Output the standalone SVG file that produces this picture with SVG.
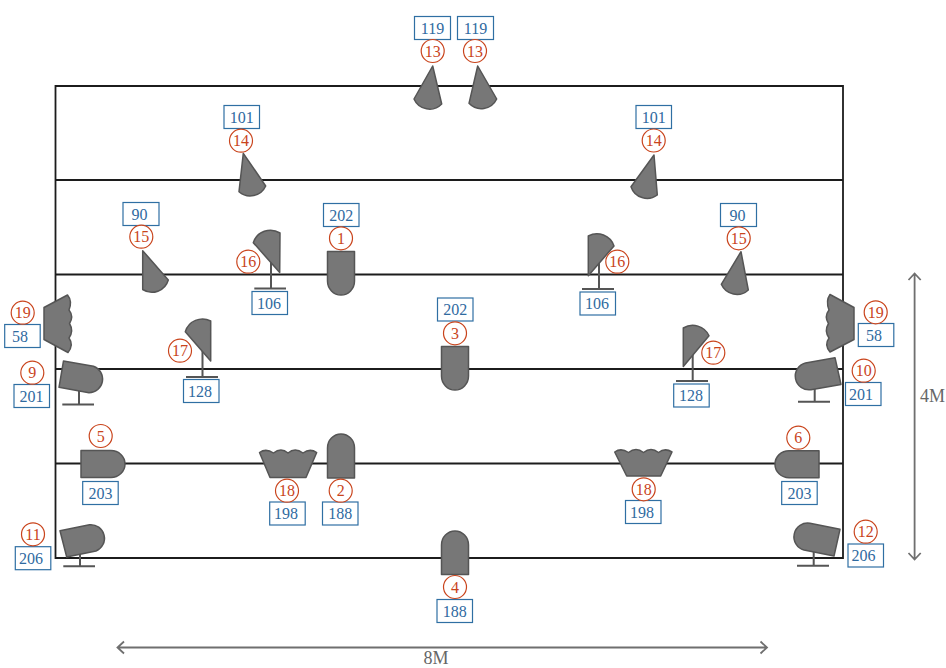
<svg xmlns="http://www.w3.org/2000/svg" width="946" height="668" viewBox="0 0 946 668">
<style>
text{font-family:"Liberation Serif","Times New Roman",serif;text-anchor:middle}
.f{fill:#777;stroke:#555;stroke-width:1.5;stroke-linejoin:round}
.s{fill:none;stroke:#555;stroke-width:2}
.l{fill:none;stroke:#1c1c1c;stroke-width:1.8}
.d{fill:none;stroke:#6f6f6f;stroke-width:1.8}
.c{fill:#fff;stroke:#c9441c;stroke-width:1.2}
.r{fill:#fff;stroke:#2f6fa3;stroke-width:1.2}
.ct{font-size:16px;fill:#c9441c}
.rt{font-size:16px;fill:#2f6a9f}
.dt{font-size:18px;fill:#666}
</style>
<rect width="946" height="668" fill="#fff"/>
<g id="connectors">
<path class="l" d="M55.5 86H843V558H55.5ZM55.5 180H843M55.5 274.5H843M55.5 369H843M55.5 463.5H843"/>
<path class="d" d="M914.6 273V560M908.5 280L914.6 273.5L920.7 280M908.5 553L914.6 559.5L920.7 553M117.5 647.5H767M124 641.5L117.5 647.5L124 653.5M760.5 641.5L767 647.5L760.5 653.5"/>
<text class="dt" x="932.5" y="402">4M</text>
<text class="dt" x="436" y="664">8M</text>
</g>
<g id="n13a"><path class="f" d="M432.7 66L414 99A17 17 0 0 0 441.7 104Z"/><rect class="r" x="414.5" y="16.5" width="36" height="23"/><text class="rt" x="432.5" y="33.5">119</text><circle class="c" cx="432.7" cy="51" r="11.5"/><text class="ct" x="432.7" y="56.5">13</text></g>
<g id="n13b"><path class="f" d="M477.7 66L469 103.3A17 17 0 0 0 496.7 99Z"/><rect class="r" x="457.5" y="16.5" width="36" height="23"/><text class="rt" x="475.5" y="33.5">119</text><circle class="c" cx="475" cy="51" r="11.5"/><text class="ct" x="475" y="56.5">13</text></g>
<g id="n14a"><path class="f" d="M243.3 153.3L265.7 186A17 17 0 0 1 239 191.7Z"/><rect class="r" x="224" y="105.5" width="35.5" height="23"/><text class="rt" x="241.7" y="122.5">101</text><circle class="c" cx="241" cy="140.7" r="11.5"/><text class="ct" x="241" y="146">14</text></g>
<g id="n14b"><path class="f" d="M654 155L631 186.7A17 17 0 0 0 657.3 195Z"/><rect class="r" x="636" y="105.5" width="35.5" height="23"/><text class="rt" x="653.7" y="122.5">101</text><circle class="c" cx="653.7" cy="140.5" r="11.5"/><text class="ct" x="653.7" y="146">14</text></g>
<g id="n15a"><path class="f" d="M142.7 250.7L168.3 280A17 17 0 0 1 142.7 289.5Z"/><rect class="r" x="123" y="202.5" width="36" height="23"/><text class="rt" x="139.5" y="219.5">90</text><circle class="c" cx="141.3" cy="236.7" r="11.5"/><text class="ct" x="141.3" y="242">15</text></g>
<g id="n15b"><path class="f" d="M741 251.7L721.3 284.3A17 17 0 0 0 748.3 290Z"/><rect class="r" x="720.5" y="203.5" width="36" height="23"/><text class="rt" x="737.5" y="220.5">90</text><circle class="c" cx="738.7" cy="238.3" r="11.5"/><text class="ct" x="738.7" y="243.8">15</text></g>
<g id="n16a"><path class="s" d="M271 262V288.5M254.3 288.5H286"/><path class="f" d="M279.7 272.5L280 233A18 18 0 0 0 253.3 242.7Z"/><rect class="r" x="252" y="291.5" width="35.5" height="23"/><text class="rt" x="269" y="308.5">106</text><circle class="c" cx="248.3" cy="261.7" r="11.5"/><text class="ct" x="248.3" y="267">16</text></g>
<g id="n16b"><path class="s" d="M599 262V289M582 289H614"/><path class="f" d="M588.3 275.7V236A18 18 0 0 1 614 246Z"/><rect class="r" x="580" y="292" width="35.5" height="23"/><text class="rt" x="597" y="309">106</text><circle class="c" cx="617.3" cy="261.7" r="11.5"/><text class="ct" x="617.3" y="267">16</text></g>
<g id="n1"><path class="f" d="M327.5 251.5H354.5V281A13.5 14 0 0 1 327.5 281Z"/><rect class="r" x="323.5" y="203.5" width="35.5" height="23"/><text class="rt" x="341.3" y="220.5">202</text><circle class="c" cx="341" cy="238.3" r="11.5"/><text class="ct" x="341" y="243.8">1</text></g>
<g id="n3"><path class="f" d="M441.5 346.5H468.5V376A13.5 14 0 0 1 441.5 376Z"/><rect class="r" x="437.5" y="298" width="35.5" height="23"/><text class="rt" x="455.3" y="315">202</text><circle class="c" cx="455" cy="333.3" r="11.5"/><text class="ct" x="455" y="338.8">3</text></g>
<g id="n2"><path class="f" d="M327.5 478V448A13.5 14 0 0 1 354.5 448V478Z"/><rect class="r" x="322.5" y="502" width="35.5" height="23"/><text class="rt" x="340.3" y="519">188</text><circle class="c" cx="340.7" cy="490.7" r="11.5"/><text class="ct" x="340.7" y="496">2</text></g>
<g id="n4"><path class="f" d="M441.5 574.5V545A13.5 14 0 0 1 468.5 545V574.5Z"/><rect class="r" x="437" y="599.5" width="35.5" height="23"/><text class="rt" x="454.8" y="616.5">188</text><circle class="c" cx="455" cy="587" r="11.5"/><text class="ct" x="455" y="592.5">4</text></g>
<g id="n5"><path class="f" d="M81 450.5H111A14 13.5 0 0 1 111 477.5H81Z"/><rect class="r" x="82.7" y="481.5" width="35.5" height="23"/><text class="rt" x="100.5" y="498.5">203</text><circle class="c" cx="100.7" cy="436" r="11.5"/><text class="ct" x="100.7" y="441.5">5</text></g>
<g id="n6"><path class="f" d="M819 450.7H789A14 13.5 0 0 0 789 477.7H819Z"/><rect class="r" x="781.7" y="481.5" width="35.5" height="23"/><text class="rt" x="799.5" y="498.5">203</text><circle class="c" cx="798.3" cy="437.7" r="11.5"/><text class="ct" x="798.3" y="443">6</text></g>
<g id="n19a"><path class="f" d="M44 307.5L67.5 295Q72.5 301 69 310Q74 316.5 69.5 323.5Q74 331 69 338Q74 345 68 352.5L44 339.5Z"/><rect class="r" x="4.7" y="324.5" width="35.5" height="23"/><text class="rt" x="20" y="341.5">58</text><circle class="c" cx="22.7" cy="312.7" r="11.5"/><text class="ct" x="22.7" y="318">19</text></g>
<g id="n19b"><path class="f" d="M854 307.5L830 294.5Q825.5 301 829 310Q824 316.5 828.5 323.5Q824 331 829 338Q824 345 830 352L854 339.5Z"/><rect class="r" x="858.3" y="323.5" width="35.5" height="23"/><text class="rt" x="874" y="340.5">58</text><circle class="c" cx="875.7" cy="312.3" r="11.5"/><text class="ct" x="875.7" y="317.8">19</text></g>
<g id="n9"><path class="s" d="M79 390V404.5M62.3 404.5H94"/><path class="f" d="M63.5 361L93.5 366.2A13.7 13.7 0 0 1 89 392.8L59 387.3Z"/><rect class="r" x="14" y="384.5" width="35.5" height="23"/><text class="rt" x="31.5" y="401.5">201</text><circle class="c" cx="32.3" cy="372.7" r="11.5"/><text class="ct" x="32.3" y="378">9</text></g>
<g id="n10"><path class="s" d="M814.7 388V401.7M798 401.7H830"/><path class="f" d="M835 357.7L805.5 362.9A13.7 13.7 0 0 0 811 389.7L841 384.5Z"/><rect class="r" x="845.5" y="382.5" width="35.5" height="23"/><text class="rt" x="861" y="399.5">201</text><circle class="c" cx="863.7" cy="370.7" r="11.5"/><text class="ct" x="863.7" y="376">10</text></g>
<g id="n11"><path class="s" d="M80 553V566.3M63.3 566.3H95"/><path class="f" d="M60 530.7L89.5 524.7A13.7 13.7 0 0 1 96 551L66.7 557Z"/><rect class="r" x="15.3" y="546.7" width="35.5" height="23"/><text class="rt" x="31" y="563.7">206</text><circle class="c" cx="33" cy="534.3" r="11.5"/><text class="ct" x="33" y="539.8">11</text></g>
<g id="n12"><path class="s" d="M813.7 552V565.7M797 565.7H829"/><path class="f" d="M840 529.3L810 523.3A13.7 13.7 0 0 0 804 550L834 556Z"/><rect class="r" x="848" y="544" width="35.5" height="23"/><text class="rt" x="863.5" y="561">206</text><circle class="c" cx="865.7" cy="531.7" r="11.5"/><text class="ct" x="865.7" y="537">12</text></g>
<g id="n17a"><path class="s" d="M202.5 350V377M186 377H218"/><path class="f" d="M210.7 361V321A18 18 0 0 0 185.3 331.7Z"/><rect class="r" x="183.5" y="379.5" width="35.5" height="23"/><text class="rt" x="200" y="396.5">128</text><circle class="c" cx="180" cy="350.7" r="11.5"/><text class="ct" x="180" y="356">17</text></g>
<g id="n17b"><path class="s" d="M692.7 355V381M676 381H708"/><path class="f" d="M683.3 366.5V328A18 18 0 0 1 709 335.7Z"/><rect class="r" x="673.7" y="384" width="35.5" height="23"/><text class="rt" x="691" y="401">128</text><circle class="c" cx="713.3" cy="352.7" r="11.5"/><text class="ct" x="713.3" y="358">17</text></g>
<g id="n18a"><path class="f" d="M259.5 452.5Q266 448 273.5 453Q281 447 288 453Q295 447 303 453Q310 448 316.7 452.5L306 477.5H270Z"/><rect class="r" x="269.7" y="502" width="35.5" height="23"/><text class="rt" x="286" y="519">198</text><circle class="c" cx="287" cy="490.7" r="11.5"/><text class="ct" x="287" y="496">18</text></g>
<g id="n18b"><path class="f" d="M614.7 452Q621 447.5 628.5 452.5Q636 446.5 643.5 452.5Q651 446.5 658.5 452.5Q665 447.5 672 452L660.7 476H626.7Z"/><rect class="r" x="625.5" y="500.5" width="35.5" height="23"/><text class="rt" x="642" y="517.5">198</text><circle class="c" cx="643.7" cy="489.3" r="11.5"/><text class="ct" x="643.7" y="494.8">18</text></g>
</svg>
